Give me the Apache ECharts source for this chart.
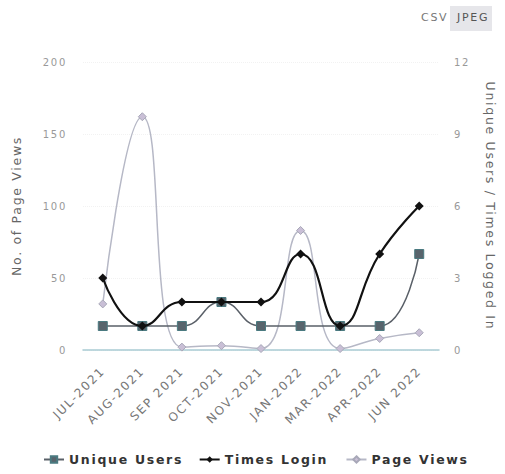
<!DOCTYPE html>
<html>
<head>
<meta charset="utf-8">
<script src="https://cdn.jsdelivr.net/npm/echarts@6/dist/echarts.min.js"></script>
<style>
  html, body { margin: 0; padding: 0; background: #fff; }
  #chart { width: 505px; height: 474px; }
  /* the original chart uses loosely spaced lettering */
  #chart svg text { letter-spacing: 1.7px; }
</style>
</head>
<body>
<div id="chart"></div>
<script>
var months = ['JUL-2021', 'AUG-2021', 'SEP 2021', 'OCT-2021', 'NOV-2021', 'JAN-2022', 'MAR-2022', 'APR-2022', 'JUN 2022'];
var uniqueUsers = [1, 1, 1, 2, 1, 1, 1, 1, 4];
var timesLogin = [3, 1, 2, 2, 2, 4, 1, 4, 6];
var pageViews = [32, 162, 2, 3, 1, 83, 1, 8, 12];

var chart = echarts.init(document.getElementById('chart'), null, { renderer: 'svg' });
var font = 'DejaVu Sans';

chart.setOption({
  animation: false,
  textStyle: { fontFamily: font },
  grid: { left: 83, right: 65, top: 62, bottom: 124 },
  legend: {
    bottom: 3,
    left: 38,
    itemGap: 36,
    itemWidth: 20,
    itemHeight: 8,
    textStyle: { fontWeight: 'bold', fontSize: 12.5, color: '#333', fontFamily: font },
    data: ['Unique Users', 'Times Login', 'Page Views']
  },
  graphic: [
    {
      type: 'rect', left: 450, top: 6,
      shape: { width: 42, height: 25 },
      style: { fill: '#e6e6ea' }
    },
    {
      type: 'text', left: 421, top: 12,
      style: { text: 'CSV', fill: '#777', font: '11px DejaVu Sans' }
    },
    {
      type: 'text', left: 457, top: 12,
      style: { text: 'JPEG', fill: '#555', font: '11px DejaVu Sans' }
    }
  ],
  xAxis: {
    type: 'category',
    data: months,
    boundaryGap: true,
    axisLine: { lineStyle: { color: '#a9cbd3', width: 1.5 } },
    axisTick: { show: false },
    axisLabel: { rotate: 45, color: '#777', fontSize: 12, margin: 19, interval: 0 }
  },
  yAxis: [
    {
      type: 'value',
      min: 0, max: 200, interval: 50,
      name: 'No. of Page Views',
      nameLocation: 'middle',
      nameGap: 60,
      nameTextStyle: { color: '#666', fontSize: 12.5 },
      axisLine: { show: false },
      axisTick: { show: false },
      axisLabel: { color: '#999', fontSize: 10, margin: 16 },
      splitLine: { lineStyle: { color: '#f2f2f2', type: 'dotted' } }
    },
    {
      type: 'value',
      min: 0, max: 12, interval: 3,
      name: 'Unique Users / Times Logged In',
      nameLocation: 'middle',
      nameRotate: -90,
      nameGap: 45,
      nameTextStyle: { color: '#666', fontSize: 12.5 },
      axisLine: { show: false },
      axisTick: { show: false },
      axisLabel: { color: '#999', fontSize: 10, margin: 15 },
      splitLine: { show: false }
    }
  ],
  series: [
    {
      name: 'Page Views',
      type: 'line',
      yAxisIndex: 0,
      smooth: 0.5,
      data: pageViews,
      symbol: 'diamond',
      symbolSize: 8,
      lineStyle: { color: '#b6b8c6', width: 1.5 },
      itemStyle: { color: '#c9bfd6', borderColor: '#a8a8b8', borderWidth: 1 },
      z: 1
    },
    {
      name: 'Unique Users',
      type: 'line',
      yAxisIndex: 1,
      smooth: 0.5,
      data: uniqueUsers,
      symbol: 'rect',
      symbolSize: 9,
      lineStyle: { color: '#5a6068', width: 1.5 },
      itemStyle: { color: '#58646c', borderColor: '#4a7a80', borderWidth: 1 },
      z: 2
    },
    {
      name: 'Times Login',
      type: 'line',
      yAxisIndex: 1,
      smooth: 0.5,
      data: timesLogin,
      symbol: 'diamond',
      symbolSize: 9,
      lineStyle: { color: '#111', width: 2.2 },
      itemStyle: { color: '#111' },
      z: 3
    }
  ]
});
</script>
</body>
</html>
